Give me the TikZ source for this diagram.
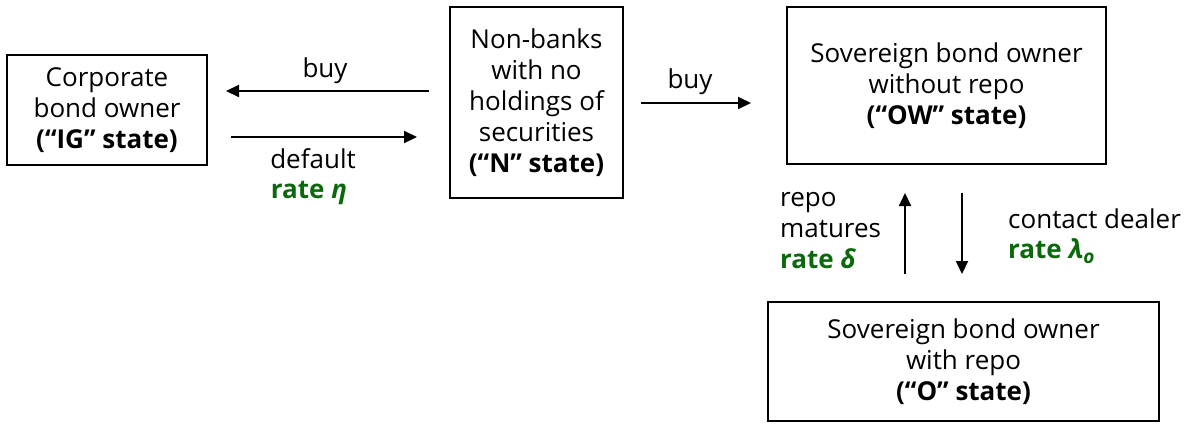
\documentclass[tikz,border=0pt]{standalone}
\usepackage{fontspec}
\setmainfont{Open Sans}
\usetikzlibrary{arrows.meta}
\definecolor{rategreen}{RGB}{10,105,10}
\begin{document}
\begin{tikzpicture}[x=1pt,y=-1pt,
  every node/.style={font=\fontsize{26}{31}\selectfont},
  box/.style={draw=black, line width=2pt, align=center, inner sep=0pt},
  lbl/.style={inner sep=0pt},
  arr/.style={line width=2pt, -{Triangle[length=13pt,width=12pt]}},
  rt/.style={text=rategreen, font=\fontsize{26}{31}\selectfont\bfseries}]
\useasboundingbox (0,0) rectangle (1189,424);

\node[box, minimum width=200pt, minimum height=110pt] (IG) at (107,110)
  {Corporate\\bond owner\\\textbf{(“IG” state)}};
\node[box, minimum width=173pt, minimum height=191pt] (N) at (536.5,102.5)
  {Non-banks\\with no\\holdings of\\securities\\\textbf{(“N” state)}};
\node[box, minimum width=319pt, minimum height=157pt] (OW) at (946.5,85.5)
  {Sovereign bond owner\\without repo\\\textbf{(“OW” state)}};
\node[box, minimum width=391pt, minimum height=119pt] (O) at (963.5,361.5)
  {Sovereign bond owner\\with repo\\\textbf{(“O” state)}};

% arrows
\draw[arr] ([xshift=-20pt,yshift=11.5pt]N.west) -- ([xshift=18pt,yshift=19pt]IG.east);
\draw[arr] ([xshift=23pt,yshift=-27pt]IG.east) -- ([xshift=-32pt,yshift=-34.5pt]N.west);
\draw[arr] ([xshift=17pt,yshift=-0.5pt]N.east) -- ([xshift=-35pt,yshift=-17.5pt]OW.west);
\draw[arr] ([xshift=-58.5pt,yshift=27pt]O.north) -- ([xshift=-41.5pt,yshift=-28pt]OW.south);
\draw[arr] ([xshift=15.5pt,yshift=-28pt]OW.south) -- ([xshift=-1.5pt,yshift=27pt]O.north);

% labels
\node[lbl, anchor=base] (buyL) at (325,77) {buy};
\node[lbl, anchor=base] (dflt) at (313,168) {default};
\node[lbl, anchor=base, rt] (eta) at (309,198) {rate \textit{η}};
\node[lbl, anchor=base] (buyR) at (690,88) {buy};
\node[lbl, anchor=base west] (repo) at (780,206.5) {repo};
\node[lbl, anchor=base west] (mat) at (780,237) {matures};
\node[lbl, anchor=base west, rt] (delta) at (780,268) {rate \textit{δ}};
\node[lbl, anchor=base west] (cd) at (1008,228) {contact dealer};
\node[lbl, anchor=base west, rt] (lam) at (1008,258)
  {rate \textit{λ}\raisebox{-5pt}{\fontsize{19}{19}\selectfont\textit{o}}};
\end{tikzpicture}
\end{document}
